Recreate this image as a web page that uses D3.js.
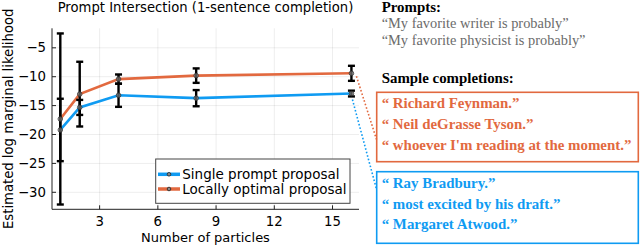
<!DOCTYPE html>
<html>
<head>
<meta charset="utf-8">
<title>Prompt Intersection</title>
<script src="https://cdn.jsdelivr.net/npm/d3@7"></script>
<style>
  body { margin: 0; background: #fff; }
  svg { display: block; }
</style>
</head>
<body>
<div id="chart"></div>
<script>
// data
var particles = [1, 2, 4, 8, 16];
var singleMean = [-19.3, -15.4, -13.3, -13.8, -13.0];
var singleErr = [5.4, 1.3, 2.0, 1.4, 0.5];
var optimalMean = [-17.4, -13.1, -10.5, -9.9, -9.5];
var optimalErr = [14.8, 5.6, 0.8, 1.25, 1.3];

var xTicks = [3, 6, 9, 12, 15];
var yTicks = [-5, -10, -15, -20, -25, -30];

var seriesNames = ["Single prompt proposal", "Locally optimal proposal"];
var promptLines = ["\u201cMy favorite writer is probably\u201d", "\u201cMy favorite physicist is probably\u201d"];
var optimalSamples = ["\u201c Richard Feynman.\u201d", "\u201c Neil deGrasse Tyson.\u201d", "\u201c whoever I'm reading at the moment.\u201d"];
var singleSamples = ["\u201c Ray Bradbury.\u201d", "\u201c most excited by his draft.\u201d", "\u201c Margaret Atwood.\u201d"];

var blue = "#0f9bf2", orange = "#e2693f";
var sans = "DejaVu Sans", serif = "Liberation Serif";

var svg = d3.select("#chart").append("svg")
    .attr("width", 640)
    .attr("height", 245);

var plot = {left: 52, right: 359, top: 28.3, bottom: 209.3};

var x = d3.scaleLinear().domain([0.572, 16.39]).range([plot.left, plot.right]);
var y = d3.scaleLinear().domain([-33.03, -1.71]).range([plot.bottom, plot.top]);

// grid
svg.append("g")
    .attr("transform", "translate(0," + plot.bottom + ")")
    .call(d3.axisBottom(x).tickValues(xTicks).tickSize(-(plot.bottom - plot.top)).tickFormat(""))
    .call(function(g) { g.select(".domain").remove(); })
    .selectAll("line").attr("stroke", "#000").attr("stroke-opacity", 0.1).attr("stroke-width", 0.7);

svg.append("g")
    .attr("transform", "translate(" + plot.left + ",0)")
    .call(d3.axisLeft(y).tickValues(yTicks).tickSize(-(plot.right - plot.left)).tickFormat(""))
    .call(function(g) { g.select(".domain").remove(); })
    .selectAll("line").attr("stroke", "#000").attr("stroke-opacity", 0.1).attr("stroke-width", 0.7);

// axes, ticks pointing in
var xAxis = svg.append("g")
    .attr("transform", "translate(0," + plot.bottom + ")")
    .call(d3.axisBottom(x).tickValues(xTicks).tickSizeInner(-4).tickSizeOuter(0).tickPadding(7));
xAxis.select(".domain").attr("stroke", "#222").attr("d", "M" + plot.left + ",0H" + plot.right);
xAxis.selectAll("text").attr("font-family", sans).attr("font-size", 13.3).attr("fill", "#000");
xAxis.selectAll("line").attr("stroke", "#222");

var yAxis = svg.append("g")
    .attr("transform", "translate(" + plot.left + ",0)")
    .call(d3.axisLeft(y).tickValues(yTicks).tickSizeInner(-4).tickSizeOuter(0).tickPadding(6)
      .tickFormat(function(d) { return String(d).replace("-", "\u2212"); }));
yAxis.select(".domain").attr("stroke", "#222").attr("d", "M0," + plot.top + "V" + plot.bottom);
yAxis.selectAll("text").attr("font-family", sans).attr("font-size", 13.3).attr("fill", "#000");
yAxis.selectAll("line").attr("stroke", "#222");

// labels
svg.append("text")
    .attr("x", (plot.left + plot.right) / 2).attr("y", 12)
    .attr("text-anchor", "middle")
    .attr("font-family", sans).attr("font-size", 13.2)
    .text("Prompt Intersection (1-sentence completion)");

svg.append("text")
    .attr("x", (plot.left + plot.right) / 2).attr("y", 241.5)
    .attr("text-anchor", "middle")
    .attr("font-family", sans).attr("font-size", 13)
    .text("Number of particles");

svg.append("text")
    .attr("transform", "translate(12.5," + (plot.top + plot.bottom) / 2 + ") rotate(-90)")
    .attr("text-anchor", "middle")
    .attr("font-family", sans).attr("font-size", 13.2)
    .text("Estimated log marginal likelihood");

// series
var series = [
  {mean: singleMean, err: singleErr, color: blue},
  {mean: optimalMean, err: optimalErr, color: orange}
];

var line = d3.line()
    .x(function(d) { return x(d[0]); })
    .y(function(d) { return y(d[1]); });

series.forEach(function(s) {
  var pts = particles.map(function(p, i) { return [p, s.mean[i], s.err[i]]; });
  s.pts = pts;
  svg.append("path")
      .attr("d", line(pts))
      .attr("fill", "none")
      .attr("stroke", s.color)
      .attr("stroke-width", 2.6);
});

series.forEach(function(s) {
  var eb = svg.append("g").attr("stroke", "#000").attr("stroke-width", 2.4);
  s.pts.forEach(function(d) {
    var cx = x(d[0]), y0 = y(d[1] + d[2]), y1 = y(d[1] - d[2]);
    eb.append("line").attr("x1", cx).attr("x2", cx).attr("y1", y0).attr("y2", y1);
    eb.append("line").attr("x1", cx - 3.5).attr("x2", cx + 3.5).attr("y1", y0).attr("y2", y0);
    eb.append("line").attr("x1", cx - 3.5).attr("x2", cx + 3.5).attr("y1", y1).attr("y2", y1);
  });
});

series.forEach(function(s) {
  svg.append("g").selectAll("circle")
    .data(s.pts)
    .join("circle")
      .attr("cx", function(d) { return x(d[0]); })
      .attr("cy", function(d) { return y(d[1]); })
      .attr("r", 2.3)
      .attr("fill", "#888")
      .attr("fill-opacity", 0.6)
      .attr("stroke", "#333")
      .attr("stroke-width", 0.8);
});

// legend
var lg = svg.append("g");
lg.append("rect")
    .attr("x", 155.7).attr("y", 159).attr("width", 194.3).attr("height", 44.3)
    .attr("fill", "#fff").attr("stroke", "#444").attr("stroke-width", 1);
series.forEach(function(s, i) {
  var ly = 174.3 + i * 14.7;
  lg.append("line").attr("x1", 158).attr("x2", 180).attr("y1", ly).attr("y2", ly)
      .attr("stroke", s.color).attr("stroke-width", 3.5);
  lg.append("circle").attr("cx", 169).attr("cy", ly).attr("r", 1.8)
      .attr("fill", "#888").attr("stroke", "#222").attr("stroke-width", 0.8);
  lg.append("text").attr("x", 182.3).attr("y", ly).attr("dy", "0.36em")
      .attr("font-family", sans).attr("font-size", 13.5)
      .text(seriesNames[i]);
});

// right-hand panel
var tx = 381.7;
svg.append("text").attr("x", tx).attr("y", 11.5)
    .attr("font-family", serif).attr("font-weight", "bold").attr("font-size", 14.9)
    .text("Prompts:");
promptLines.forEach(function(t, i) {
  svg.append("text").attr("x", tx).attr("y", 28.3 + i * 16.7)
      .attr("font-family", serif).attr("font-size", 14.4).attr("fill", "#6b6b6b")
      .text(t);
});
svg.append("text").attr("x", tx).attr("y", 82.5)
    .attr("font-family", serif).attr("font-weight", "bold").attr("font-size", 14.9)
    .text("Sample completions:");

function sampleBox(lines, top, h, color) {
  svg.append("rect")
      .attr("x", 376.7).attr("y", top).attr("width", 261.6).attr("height", h)
      .attr("fill", "none").attr("stroke", color).attr("stroke-width", 1.6);
  lines.forEach(function(t, i) {
    svg.append("text").attr("x", tx).attr("y", top + 16 + i * 20.8)
        .attr("font-family", serif).attr("font-weight", "bold").attr("font-size", 14.9)
        .attr("fill", color)
        .text(t);
  });
}
sampleBox(optimalSamples, 92.3, 69.4, orange);
sampleBox(singleSamples, 171.7, 71.6, blue);

// dotted connectors from the last points to the boxes
var lastO = series[1].pts[4], lastS = series[0].pts[4];
svg.append("line")
    .attr("x1", x(lastO[0]) + 5).attr("y1", y(lastO[1]) + 3)
    .attr("x2", 376.7).attr("y2", 140)
    .attr("stroke", orange).attr("stroke-width", 1.6).attr("stroke-dasharray", "1.6,2");
svg.append("line")
    .attr("x1", x(lastS[0]) + 1).attr("y1", y(lastS[1]) + 6)
    .attr("x2", 376.7).attr("y2", 190)
    .attr("stroke", blue).attr("stroke-width", 1.6).attr("stroke-dasharray", "1.6,2");
</script>
</body>
</html>
